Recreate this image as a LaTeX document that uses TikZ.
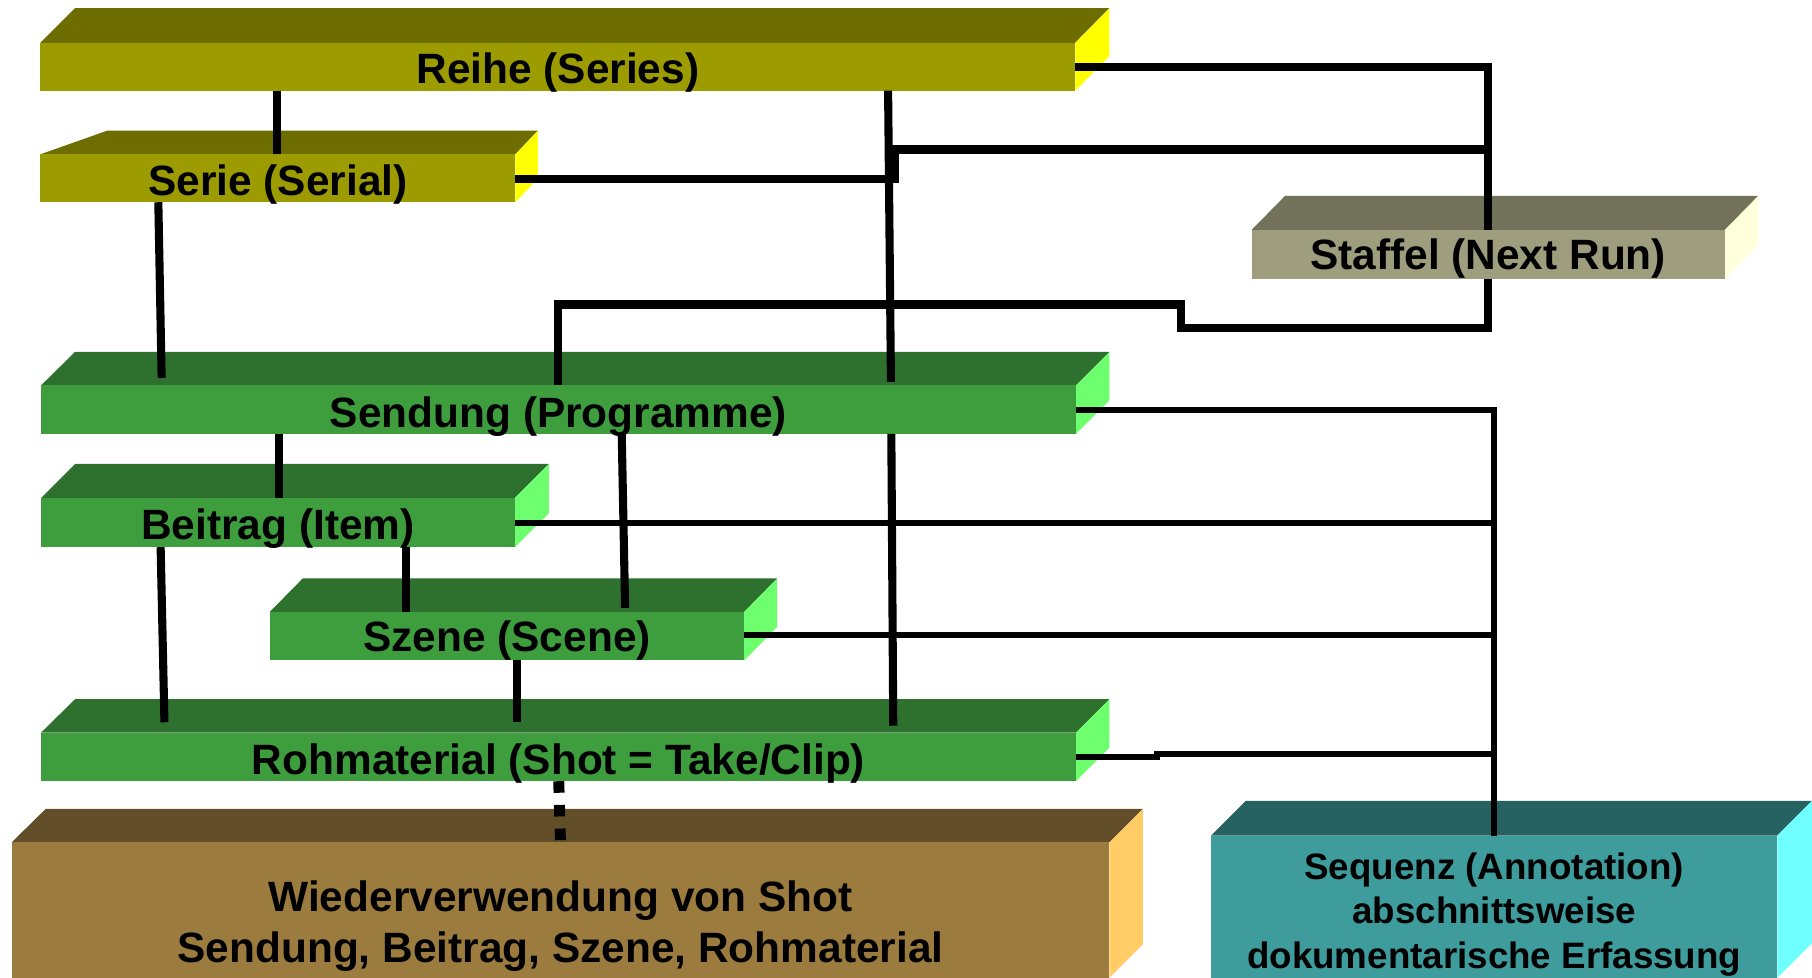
\documentclass[tikz,border=0pt]{standalone}
\usepackage{fontspec}
\setmainfont{Liberation Sans}
\usetikzlibrary{calc}

% face colours of the slabs: front, top and side
\definecolor{olivefront}{HTML}{9C9C00}
\definecolor{olivetop}{HTML}{6E6E00}
\definecolor{oliveside}{HTML}{FFFF00}
\definecolor{khakifront}{HTML}{9E9E7E}
\definecolor{khakitop}{HTML}{72725A}
\definecolor{khakiside}{HTML}{FFFFDC}
\definecolor{greenfront}{HTML}{3E9E3E}
\definecolor{greentop}{HTML}{2E702E}
\definecolor{greenside}{HTML}{6EFF6E}
\definecolor{brownfront}{HTML}{9C7C3E}
\definecolor{browntop}{HTML}{634E2A}
\definecolor{brownside}{HTML}{FFCC66}
\definecolor{tealfront}{HTML}{3E9C9C}
\definecolor{tealtop}{HTML}{266262}
\definecolor{tealside}{HTML}{70FFFF}

% a 3D slab: #1 name, front face (#2,#3)-(#4,#5), top face reaching up to y=#7
% between x=#6 and x=#8, #9 colour family
\newcommand\slab[9]{%
  \fill[#9top] (#2,#3) -- (#6,#7) -- (#8,#7) -- (#4,#3) -- cycle;
  \fill[#9side] (#4,#3) -- (#8,#7) -- (#8,{#7+#5-#3}) -- (#4,#5) -- cycle;
  \node[slabface, fill=#9front, minimum width={(#4-#2)*1pt},
        minimum height={(#5-#3)*1pt}, anchor=north west] (#1) at (#2,#3) {};
}

\tikzset{
  slabface/.style={inner sep=0pt, outer sep=0pt, draw=none},
  lbl/.style={font=\bfseries\fontsize{36.7pt}{44pt}\selectfont, inner sep=0pt, anchor=base},
  seqlbl/.style={font=\bfseries\fontsize{31.8pt}{38pt}\selectfont, inner sep=0pt, anchor=base},
  link/.style={line width=7pt, black},
  seqlink/.style={line width=5pt, black},
  reuse/.style={line width=9.5pt, black, dash pattern=on 10pt off 10.5pt},
}

\begin{document}
\begin{tikzpicture}[x=1pt, y=-1pt]
\useasboundingbox (0,0) rectangle (1568,846);

% slabs
\slab{reihe}{35}{37}{930.5}{78.5}{65}{7}{960}{olive}
\slab{serie}{35}{133.5}{446}{175}{93}{113}{465.5}{olive}
\slab{staffel}{1083}{199}{1492.5}{241.5}{1112}{169.5}{1521.5}{khaki}
\slab{sendung}{35.5}{333.5}{931}{375.5}{65}{304.5}{960}{green}
\slab{beitrag}{35.5}{431}{445.5}{473.5}{65}{401.5}{475}{green}
\slab{szene}{233.5}{529.5}{644}{571.5}{262}{500.5}{672.5}{green}
\slab{roh}{35.5}{634}{931}{676}{65}{605}{960}{green}
\slab{wieder}{10}{729}{960}{846}{39.5}{700}{989}{brown}
\slab{sequenz}{1048}{723}{1538}{846}{1078}{693}{1568}{teal}

% Reihe / Serie / Staffel connections
\draw[link] (0,58 -| reihe.east) -- (0,58 -| staffel.north) -- (staffel.north);
\draw[link] (0,155 -| serie.east) -- (774.5,155) -- (774.5,129.4) -- (0,129.4 -| staffel.north);
\draw[link] (staffel.south) -- (0,284 -| staffel.south) -- (1022,284) -- (1022,263.5)
  -- (483,263.5) -- (483,0 |- sendung.north);
\draw[link] (240,0 |- reihe.south) -- (240,0 |- serie.north);
\draw[link, shorten >=3pt] (768.5,0 |- reihe.south) -- (771,0 |- sendung.north);
\draw[link, shorten >=6.5pt] (137,0 |- serie.south) -- (140,0 |- sendung.north);

% Sendung / Beitrag / Szene / Rohmaterial connections
\draw[link] (241.5,0 |- sendung.south) -- (241.5,0 |- beitrag.north);
\draw[link, shorten >=3.5pt] (538,0 |- sendung.south) -- (541,0 |- szene.north);
\draw[link, shorten >=6pt] (771.3,0 |- sendung.south) -- (773,0 |- roh.north);
\draw[link, shorten >=9pt] (139,0 |- beitrag.south) -- (142.5,0 |- roh.north);
\draw[link] (351,0 |- beitrag.south) -- (351,0 |- szene.north);
\draw[link, shorten >=9pt] (447,0 |- szene.south) -- (447,0 |- roh.north);
\draw[reuse] (483.5,0 |- roh.south) -- (485,0 |- wieder.north);

% annotation tree
\draw[seqlink] (0,355 -| sendung.east) -- (0,355 -| sequenz.north) -- (sequenz.north);
\draw[seqlink] (0,452.5 -| beitrag.east) -- (0,452.5 -| sequenz.north);
\draw[seqlink] (0,549.5 -| szene.east) -- (0,549.5 -| sequenz.north);
\draw[seqlink] (0,655 -| roh.east) -- (1001,655) -- (1001,652.3) -- (0,652.3 -| sequenz.north);

% labels
\node[lbl] (reihe-l) at ([yshift=6.5pt]reihe.south) {Reihe (Series)};
\node[lbl] (serie-l) at ([yshift=5.5pt]serie.south) {Serie (Serial)};
\node[lbl] (staffel-l) at ([yshift=8pt]staffel.south) {Staffel (Next Run)};
\node[lbl] (sendung-l) at ([yshift=6pt]sendung.south) {Sendung (Programme)};
\node[lbl] (beitrag-l) at ([yshift=7pt]beitrag.south) {Beitrag (Item)};
\node[lbl] (szene-l) at ([yshift=7.5pt]szene.south) {Szene (Scene)};
\node[lbl] (roh-l) at ([yshift=6pt]roh.south) {Rohmaterial (Shot = Take/Clip)};
\node[lbl] (wieder-l1) at ([yshift=-60pt]wieder.north) {Wiederverwendung von Shot};
\node[lbl] (wieder-l2) at ([yshift=-104pt]wieder.north) {Sendung, Beitrag, Szene, Rohmaterial};
\node[seqlbl] (sequenz-l1) at ([yshift=-38pt]sequenz.north) {Sequenz (Annotation)};
\node[seqlbl] (sequenz-l2) at ([yshift=-76.5pt]sequenz.north) {abschnittsweise};
\node[seqlbl] (sequenz-l3) at ([yshift=-115pt]sequenz.north) {dokumentarische Erfassung};
\end{tikzpicture}
\end{document}
